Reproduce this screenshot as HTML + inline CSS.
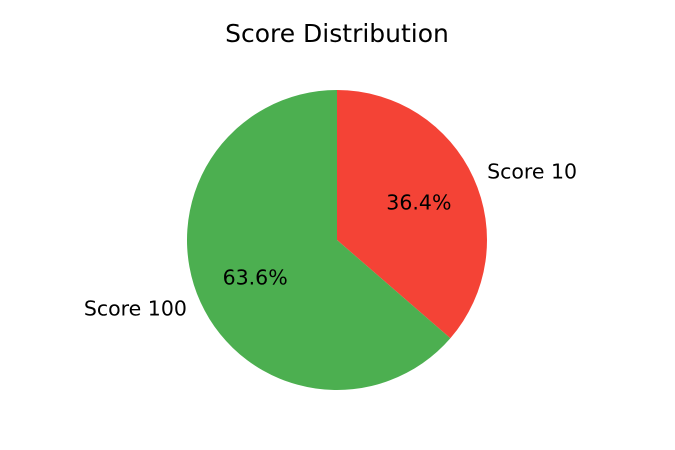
<!DOCTYPE html>
<html><head><meta charset="utf-8"><style>
html,body{margin:0;padding:0;background:#fff;}
svg{display:block;font-family:"DejaVu Sans","Liberation Sans",sans-serif;}
</style></head><body>
<svg id="chart" width="675" height="450" viewBox="0 0 675 450">
<text x="337" y="42" text-anchor="middle" font-size="25" fill="#000">Score Distribution</text>
<g id="slices"></g>
</svg>
<script>
const categories = ["Score 10", "Score 100"];
const values = [4, 7];
const colors = ["#f44336", "#4caf50"];
const cx = 337, cy = 240, r = 150;
const ns = "http://www.w3.org/2000/svg";
const g = document.getElementById("slices");
const total = values.reduce((a, b) => a + b, 0);
let start = 90;
function pt(deg, rad) { const a = deg * Math.PI / 180; return [cx + rad * Math.cos(a), cy - rad * Math.sin(a)]; }
values.forEach((v, i) => {
  const sweep = v / total * 360;
  const end = start - sweep;
  const [x1, y1] = pt(start, r), [x2, y2] = pt(end, r);
  const large = sweep > 180 ? 1 : 0;
  const p = document.createElementNS(ns, "path");
  p.setAttribute("d", `M${cx},${cy} L${x1},${y1} A${r},${r} 0 ${large} 1 ${x2},${y2} Z`);
  p.setAttribute("fill", colors[i]);
  
  
  g.appendChild(p);
  const mid = start - sweep / 2;
  const [lx, ly] = pt(mid, r * 1.1);
  const lt = document.createElementNS(ns, "text");
  lt.setAttribute("x", lx); lt.setAttribute("y", ly + 7);
  lt.setAttribute("font-size", "20.5");
  lt.setAttribute("text-anchor", Math.cos(mid * Math.PI / 180) >= 0 ? "start" : "end");
  lt.textContent = categories[i];
  
  
  g.appendChild(lt);
  const [px, py] = pt(mid, r * 0.6);
  const pc = document.createElementNS(ns, "text");
  pc.setAttribute("x", px); pc.setAttribute("y", py + 7);
  pc.setAttribute("font-size", "20.5");
  pc.setAttribute("text-anchor", "middle");
  pc.textContent = (v / total * 100).toFixed(1) + "%";
  
  
  g.appendChild(pc);
  start = end;
});
</script>
</body></html>
